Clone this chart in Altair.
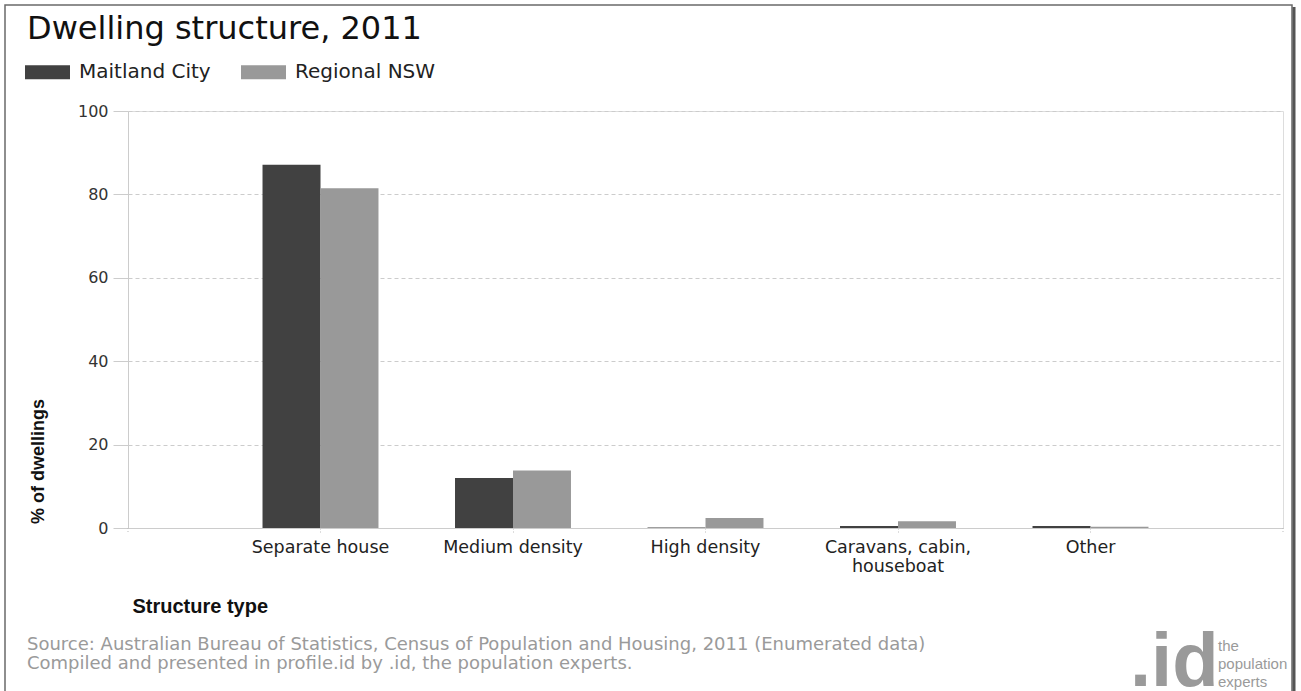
import altair as alt
import pandas as pd

# ---- data ----
categories = ["Separate house", "Medium density", "High density",
              "Caravans, cabin, houseboat", "Other"]
maitland = [87.1, 12.0, 0.1, 0.5, 0.5]
regional = [81.5, 13.8, 2.4, 1.6, 0.3]
series = ["Maitland City", "Regional NSW"]
colors = ["#414141", "#999999"]
y_ticks = [0, 20, 40, 60, 80, 100]
title_text = "Dwelling structure, 2011"
source_lines = [
    "Source: Australian Bureau of Statistics, Census of Population and Housing, 2011 (Enumerated data)",
    "Compiled and presented in profile.id by .id, the population experts.",
]
logo_big = ".id"
logo_small = ["the", "population", "experts"]

rows = []
for c, m, r in zip(categories, maitland, regional):
    rows.append({"category": c, "series": series[0], "value": m})
    rows.append({"category": c, "series": series[1], "value": r})
df = pd.DataFrame(rows)

W, H = 1155, 417
LEFT, TOP = 128, 111

wrap_expr = ("datum.value == 'Caravans, cabin, houseboat' ? "
             "['Caravans, cabin,', 'houseboat'] : datum.value")

bars = alt.Chart(df).mark_bar().encode(
    x=alt.X(
        "category:N", sort=categories,
        scale=alt.Scale(paddingInner=0, paddingOuter=0.5),
        axis=alt.Axis(
            title="Structure type", titleFont="Liberation Sans", titleFontSize=20,
            titleFontWeight="bold", titleColor="#111", titleAnchor="start",
            titleAlign="left", titleBaseline="middle", titleX=4, titleY=78,
            labelAngle=0, labelFont="DejaVu Sans", labelFontSize=17.5,
            labelColor="#222", labelExpr=wrap_expr, labelLimit=400,
            labelLineHeight=19, labelPadding=4,
            domainColor="#cccccc", tickColor="#bbbbbb", tickDash=[1, 2],
            tickSize=6, grid=False,
        ),
    ),
    xOffset=alt.XOffset("series:N", sort=series,
                        scale=alt.Scale(paddingInner=0, paddingOuter=0.66)),
    y=alt.Y(
        "value:Q", scale=alt.Scale(domain=[0, 100]),
        axis=alt.Axis(
            values=y_ticks, title="% of dwellings", titleFont="Liberation Sans",
            titleFontSize=18, titleFontWeight="bold", titleColor="#111",
            titleAngle=270, titleAlign="center", titleBaseline="middle",
            titleX=-90, titleY=350,
            labelFont="DejaVu Sans", labelFontSize=16, labelColor="#333",
            labelPadding=5, tickSize=15, tickColor="#cccccc",
            domainColor="#cccccc", gridColor="#cccccc", gridDash=[4, 3],
        ),
    ),
    color=alt.Color(
        "series:N", scale=alt.Scale(domain=series, range=colors),
        legend=alt.Legend(
            title=None, orient="none", direction="horizontal",
            legendX=25 - LEFT, legendY=72 - TOP - 22.5,
            symbolType="M-1,-0.31H1V0.31H-1Z", symbolSize=2025,
            symbolStrokeWidth=0, symbolOpacity=1,
            labelFont="DejaVu Sans", labelFontSize=20, labelColor="#222",
            labelOffset=9, columnPadding=30, padding=0,
        ),
    ),
)

end_tick_l = alt.Chart(pd.DataFrame({"a": [0]})).mark_rule(
    color="#bbbbbb", strokeDash=[1, 2]).encode(
    x=alt.value(0), y=alt.value(H), y2=alt.value(H + 6))
end_tick_r = alt.Chart(pd.DataFrame({"a": [0]})).mark_rule(
    color="#bbbbbb", strokeDash=[1, 2]).encode(
    x=alt.value(W), y=alt.value(H), y2=alt.value(H + 6))

title = alt.Chart(pd.DataFrame({"t": [title_text]})).mark_text(
    align="left", baseline="alphabetic", font="DejaVu Sans", fontSize=32,
    color="#111").encode(
    text="t:N", x=alt.value(27 - LEFT), y=alt.value(38.5 - TOP))

footer = alt.Chart(pd.DataFrame({"t": ["\n".join(source_lines)]})).mark_text(
    align="left", baseline="alphabetic", font="DejaVu Sans", fontSize=18,
    color="#9a9a9a", lineBreak="\n", lineHeight=19).encode(
    text="t:N", x=alt.value(27 - LEFT), y=alt.value(650 - TOP))

logo1 = alt.Chart(pd.DataFrame({"t": [logo_big]})).mark_text(
    align="left", baseline="alphabetic", font="Liberation Sans", fontSize=76,
    fontWeight="bold", color="#9a9a9a").encode(
    text="t:N", x=alt.value(1130 - LEFT), y=alt.value(686 - TOP))

logo2 = alt.Chart(pd.DataFrame({"t": ["\n".join(logo_small)]})).mark_text(
    align="left", baseline="alphabetic", font="Liberation Sans", fontSize=15,
    color="#9a9a9a", lineBreak="\n", lineHeight=18).encode(
    text="t:N", x=alt.value(1218 - LEFT), y=alt.value(651 - TOP))

frame = alt.Chart(pd.DataFrame({"a": [0]})).mark_rect(
    fillOpacity=0, stroke="#6a6a6a", strokeWidth=1.5).encode(
    x=alt.value(5 - LEFT), x2=alt.value(1292 - LEFT),
    y=alt.value(5 - TOP), y2=alt.value(720 - TOP))
shadow = alt.Chart(pd.DataFrame({"a": [0]})).mark_rule(
    color="#555555", strokeWidth=3).encode(
    x=alt.value(1294 - LEFT), y=alt.value(7 - TOP), y2=alt.value(720 - TOP))

chart = alt.layer(bars, end_tick_l, end_tick_r, title, footer, logo1, logo2,
                  frame, shadow).properties(
    width=W, height=H,
    padding={"left": LEFT, "top": TOP, "right": 1301 - LEFT - W, "bottom": 691 - TOP - H},
    autosize=alt.AutoSizeParams(type="none"),
).configure_view(stroke=None).configure(background="white")

chart.save("out.html", embed_options={"renderer": "svg", "actions": False})
